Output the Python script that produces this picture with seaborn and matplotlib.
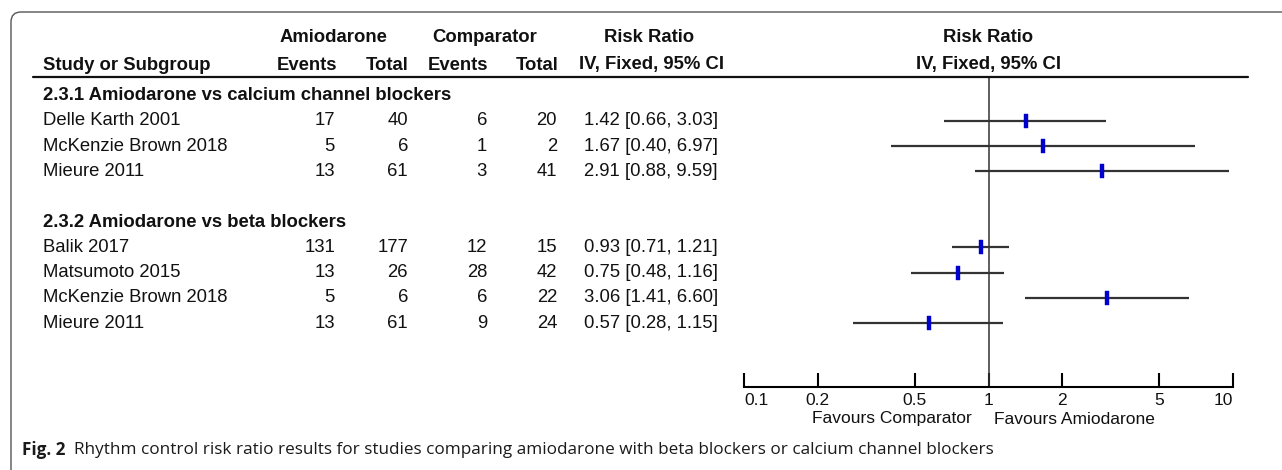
import numpy as np
import pandas as pd
import matplotlib
matplotlib.use("Agg")
import matplotlib.pyplot as plt
import matplotlib.transforms as mtransforms
from matplotlib.patches import FancyBboxPatch
from matplotlib.lines import Line2D
from matplotlib.path import Path
from matplotlib.ticker import FixedLocator, NullFormatter
import seaborn as sns

# ---------------- data ----------------
groups = ["2.3.1 Amiodarone vs calcium channel blockers",
          "2.3.2 Amiodarone vs beta blockers"]
group_of = [0, 0, 0, 1, 1, 1, 1]
studies = ["Delle Karth 2001", "McKenzie Brown 2018", "Mieure 2011",
           "Balik 2017", "Matsumoto 2015", "McKenzie Brown 2018", "Mieure 2011"]
am_events = [17, 5, 13, 131, 13, 5, 13]
am_total = [40, 6, 61, 177, 26, 6, 61]
comp_events = [6, 1, 3, 12, 28, 6, 9]
comp_total = [20, 2, 41, 15, 42, 22, 24]
rr = [1.42, 1.67, 2.91, 0.93, 0.75, 3.06, 0.57]
rr_lo = [0.66, 0.40, 0.88, 0.71, 0.48, 1.41, 0.28]
rr_hi = [3.03, 6.97, 9.59, 1.21, 1.16, 6.60, 1.15]
xticks = [0.1, 0.2, 0.5, 1, 2, 5, 10]
xtick_labels = ["0.1", "0.2", "0.5", "1", "2", "5", "10"]
favours_left = "Favours Comparator"
favours_right = "Favours Amiodarone"
caption_bold = "Fig. 2"
caption_text = ("Rhythm control risk ratio results for studies comparing amiodarone "
                "with beta blockers or calcium channel blockers")

# ---------------- layout of rows ----------------
rows = []
group_rows = []
r = 0
for g in range(len(groups)):
    group_rows.append(r)
    r += 1
    for i, gi in enumerate(group_of):
        if gi == g:
            rows.append(r)
            r += 1
    r += 1  # blank line after group

df = pd.DataFrame({"study": studies, "rr": rr, "lo": rr_lo, "hi": rr_hi, "row": rows})

# ---------------- figure ----------------
W, H = 1282, 470
sns.set_theme(style="white")
plt.rcParams["font.family"] = ["Liberation Sans", "DejaVu Sans"]
fig = plt.figure(figsize=(W / 100, H / 100), dpi=100)

def fx(px):
    return px / W

def fy(py):
    return 1 - py / H

row0_px, row_step = 95.5, 25.3
axis_top_px, axis_bot_px = 77, 387
ax = fig.add_axes([fx(744), fy(axis_bot_px), fx(1233) - fx(744),
                   (axis_bot_px - axis_top_px) / H])
ax.set_xscale("log")
ax.set_xlim(0.1, 10)
ax.set_ylim((axis_bot_px - row0_px) / row_step, (axis_top_px - row0_px) / row_step)

# confidence intervals
ax.hlines(df["row"], df["lo"], df["hi"], color="#333333", lw=1.6, zorder=2)
# null line
ax.axvline(1, color="#333333", lw=1.1, zorder=1)
# point estimates
rect = Path([(-0.13, -0.5), (0.13, -0.5), (0.13, 0.5), (-0.13, 0.5), (-0.13, -0.5)])
sns.scatterplot(data=df, x="rr", y="row", marker=rect, s=110, color="#0000CC",
                edgecolor="#0000CC", linewidth=0.3, ax=ax, zorder=3, legend=False)

ax.set_xlabel("")
ax.set_ylabel("")
ax.set_yticks([])
ax.set_xticks(xticks)
ax.set_xticklabels(xtick_labels, fontsize=12.5)
ax.xaxis.set_minor_locator(FixedLocator(xticks))
ax.xaxis.set_minor_formatter(NullFormatter())
ax.tick_params(axis="x", which="major", direction="in", length=10, width=1.5,
               color="black", pad=4, bottom=True, labelcolor="#111111")
ax.tick_params(axis="x", which="minor", direction="out", length=3.6, width=1.5,
               color="black", bottom=True)
for lab, ha in zip(ax.get_xticklabels(), ["left"] + ["center"] * 5 + ["right"]):
    lab.set_ha(ha)
for s in ["top", "right", "left"]:
    ax.spines[s].set_visible(False)
ax.spines["bottom"].set_color("black")
ax.spines["bottom"].set_linewidth(1.5)
ax.patch.set_alpha(0)

blend = mtransforms.blended_transform_factory(fig.transFigure, ax.transData)
fs = 13.3
tcol = "#111111"
# group headers
for g, gr in zip(groups, group_rows):
    ax.text(fx(43), gr, g, transform=blend, ha="left", va="center",
            fontsize=fs, fontweight="bold", color=tcol, clip_on=False)
# study rows
for i in range(len(studies)):
    y = rows[i]
    ax.text(fx(43), y, studies[i], transform=blend, ha="left", va="center",
            fontsize=fs, color=tcol, clip_on=False)
    ax.text(fx(335), y, str(am_events[i]), transform=blend, ha="right", va="center",
            fontsize=fs, color=tcol, clip_on=False)
    ax.text(fx(408), y, str(am_total[i]), transform=blend, ha="right", va="center",
            fontsize=fs, color=tcol, clip_on=False)
    ax.text(fx(487), y, str(comp_events[i]), transform=blend, ha="right", va="center",
            fontsize=fs, color=tcol, clip_on=False)
    ax.text(fx(557), y, str(comp_total[i]), transform=blend, ha="right", va="center",
            fontsize=fs, color=tcol, clip_on=False)
    ax.text(fx(651), y, f"{rr[i]:.2f} [{rr_lo[i]:.2f}, {rr_hi[i]:.2f}]", transform=blend,
            ha="center", va="center", fontsize=fs, color=tcol, clip_on=False)

# column headers
hdr = dict(fontsize=fs, fontweight="bold", color=tcol, va="center")
fig.text(fx(333), fy(38), "Amiodarone", ha="center", **hdr)
fig.text(fx(485), fy(38), "Comparator", ha="center", **hdr)
fig.text(fx(649), fy(38), "Risk Ratio", ha="center", **hdr)
fig.text(fx(988), fy(38), "Risk Ratio", ha="center", **hdr)
fig.text(fx(43), fy(65), "Study or Subgroup", ha="left", **hdr)
fig.text(fx(337), fy(65), "Events", ha="right", **hdr)
fig.text(fx(408), fy(65), "Total", ha="right", **hdr)
fig.text(fx(488), fy(65), "Events", ha="right", **hdr)
fig.text(fx(558), fy(65), "Total", ha="right", **hdr)
fig.text(fx(651), fy(65), "IV, Fixed, 95% CI", ha="center", **hdr)
fig.text(fx(988), fy(65), "IV, Fixed, 95% CI", ha="center", **hdr)

# header rule
fig.add_artist(Line2D([fx(33), fx(1248)], [fy(76.5), fy(76.5)], color="#111111",
                      lw=1.6, transform=fig.transFigure))

# favours labels
fig.text(fx(972), fy(419), favours_left, ha="right", va="center", fontsize=12.5, color=tcol)
fig.text(fx(994), fy(419), favours_right, ha="left", va="center", fontsize=12.5, color=tcol)

# border (rounded top-left corner)
box = FancyBboxPatch((11, -60), 1500, H - 12 + 60, boxstyle="round,pad=0,rounding_size=10",
                     transform=mtransforms.IdentityTransform(), fill=False,
                     edgecolor="#555555", lw=1.0)
fig.add_artist(box)

# caption
cap_font = ["Open Sans", "DejaVu Sans"]
t1 = fig.text(fx(22), fy(450), caption_bold, ha="left", va="center", fontsize=12.3,
              fontweight="bold", family=cap_font, color="#1a1a1a")
renderer = fig.canvas.get_renderer()
bb = t1.get_window_extent(renderer=renderer)
fig.text((bb.x1 + 9) / W, fy(450), caption_text, ha="left", va="center", fontsize=12.3,
         family=cap_font, color="#1a1a1a")

fig.savefig("out.png", dpi=100)
